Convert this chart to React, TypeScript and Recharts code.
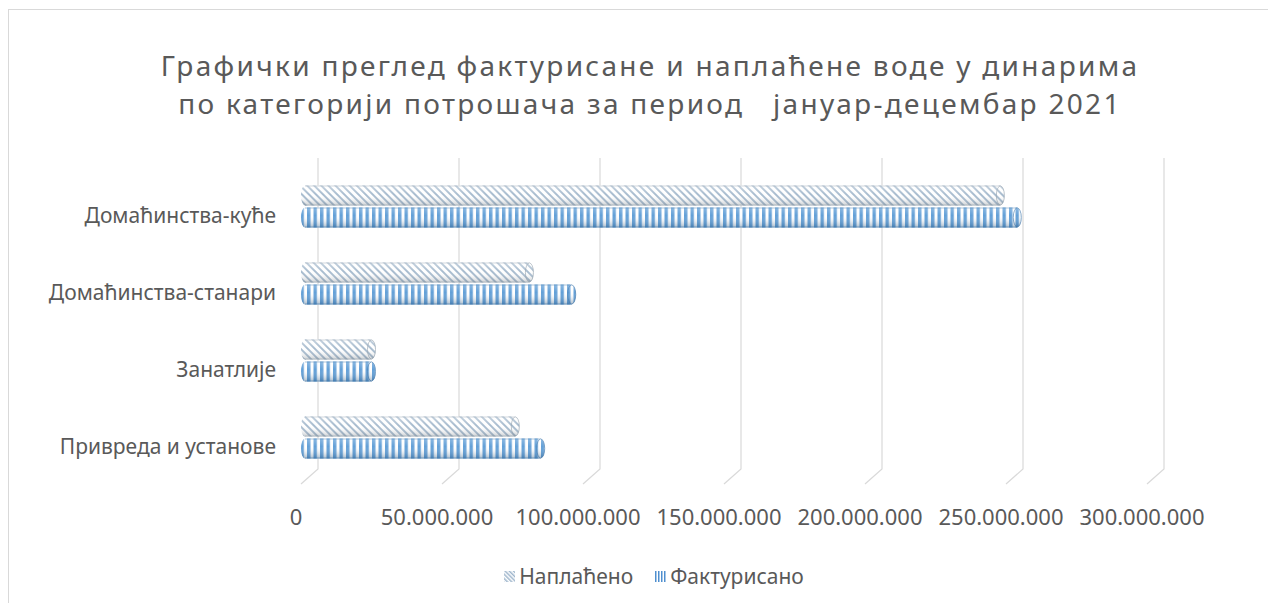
import React from "react";
import { BarChart, Bar, XAxis, YAxis, CartesianGrid } from "recharts";

const categories = ["Домаћинства-куће", "Домаћинства-станари", "Занатлије", "Привреда и установе"];
const naplaceno = [248000000, 81000000, 25000000, 76000000];
const fakturisano = [254000000, 96000000, 25000000, 85000000];
const xTicks = [0, 50000000, 100000000, 150000000, 200000000, 250000000, 300000000];
const titleLines = [
  "Графички преглед фактурисане и наплаћене воде у динарима",
  "по категорији потрошача за период   јануар-децембар 2021",
];
const seriesNames = ["Наплаћено", "Фактурисано"];

const data = categories.map((c, i) => ({ name: c, n: naplaceno[i], f: fakturisano[i] }));

const FONT = "'Noto Sans', 'Open Sans', sans-serif";
const TXT = "#595959";

const fmt = (v: number) => {
  if (v === 0) return "0";
  return String(v).replace(/\B(?=(\d{3})+(?!\d))/g, ".");
};

const Cyl = (props: any) => {
  const { x, y, width, height, kind } = props;
  if (!width || width <= 0) return null;
  const pat = kind === "n" ? "url(#patN)" : "url(#patF)";
  const shade = kind === "n" ? "url(#shadeN)" : "url(#shadeF)";
  const edge = kind === "n" ? "#9aa6b2" : "#4a7fb0";
  const rx = 4;
  const cy = y + height / 2;
  return (
    <g>
      <ellipse cx={x + 4} cy={cy} rx={rx} ry={height / 2} fill={pat} />
      <ellipse cx={x + 4} cy={cy} rx={rx} ry={height / 2} fill={shade} />
      <rect x={x + 4} y={y} width={width - 4} height={height} fill={pat} />
      <rect x={x + 4} y={y} width={width - 4} height={height} fill={shade} />
      <line x1={x + 4} y1={y + 0.5} x2={x + width} y2={y + 0.5} stroke={edge} strokeOpacity={0.45} />
      <line x1={x + 4} y1={y + height - 0.5} x2={x + width} y2={y + height - 0.5} stroke={edge} strokeOpacity={0.6} />
      <ellipse cx={x + width} cy={cy} rx={rx} ry={height / 2 - 0.5} fill={pat} stroke={edge} strokeOpacity={0.7} />
      <ellipse cx={x + width} cy={cy} rx={rx} ry={height / 2 - 0.5} fill={shade} />
    </g>
  );
};

const GridLine = (p: any) => {
  const { x1, y1, y2 } = p;
  const d = `M${x1 + 17},${y1 - 9.5} L${x1 + 17},${y2 - 6.5} L${x1},${y2 + 8.5}`;
  return <path key={p.key} d={d} stroke="#d9d9d9" strokeWidth={1.2} fill="none" />;
};

const XTick = (p: any) => {
  const { x, y, payload } = p;
  return (
    <text x={x - 5} y={y + 41} textAnchor="middle" fill={TXT} fontSize={22} fontFamily={FONT}>
      {fmt(payload.value)}
    </text>
  );
};

const YTick = (p: any) => {
  const { x, y, payload } = p;
  return (
    <text x={x} y={y + 17} textAnchor="end" fill={TXT} fontSize={21} fontFamily={FONT}>
      {payload.value}
    </text>
  );
};

const Swatch = ({ kind }: { kind: string }) => (
  <svg width={11} height={11} style={{ marginRight: 4 }}>
    <defs>
      <pattern id={"sw" + kind} patternUnits="userSpaceOnUse" width={3} height={3} patternTransform={kind === "n" ? "rotate(-45)" : undefined}>
        <rect width={3} height={3} fill="#fff" />
        <rect width={1.5} height={3} fill={kind === "n" ? "#9fb6cc" : "#4f8fcf"} />
      </pattern>
    </defs>
    <rect width={11} height={11} fill={`url(#sw${kind})`} />
  </svg>
);

export default function App() {
  return (
    <div style={{ position: "relative", width: 1260, height: 595, overflow: "hidden", background: "#fff" }}>
      <div style={{ position: "absolute", left: 0, top: 1, width: 1400, height: 800, border: "1px solid #d9d9d9" }} />
      <div
        style={{
          position: "absolute",
          left: 0,
          top: 38,
          width: 1284,
          textAlign: "center",
          fontFamily: FONT,
          fontSize: 28,
          lineHeight: "38px",
          letterSpacing: 2.3,
          color: TXT,
          whiteSpace: "pre",
        }}
      >
        {titleLines.map((l, i) => (
          <div key={i}>{l}</div>
        ))}
      </div>
      <div style={{ position: "absolute", left: 0, top: 0 }}>
        <BarChart
          width={1260}
          height={595}
          data={data}
          layout="vertical"
          margin={{ top: 159.5, right: 121, bottom: 87.5, left: 0 }}
          barSize={20}
          barGap={2}
        >
          <defs>
            <pattern id="patN" patternUnits="userSpaceOnUse" width={5} height={5} patternTransform="rotate(-45)">
              <rect width={5} height={5} fill="#ffffff" />
              <rect width={2} height={5} fill="#a8bccf" />
            </pattern>
            <pattern id="patF" patternUnits="userSpaceOnUse" width={6.5} height={6}>
              <rect width={6.5} height={6} fill="#ffffff" />
              <rect width={3.4} height={6} fill="#5b9bd5" />
            </pattern>
            <linearGradient id="shadeN" x1="0" y1="0" x2="0" y2="1">
              <stop offset="0" stopColor="#ffffff" stopOpacity={0.35} />
              <stop offset="0.45" stopColor="#ffffff" stopOpacity={0} />
              <stop offset="1" stopColor="#4d5a66" stopOpacity={0.3} />
            </linearGradient>
            <linearGradient id="shadeF" x1="0" y1="0" x2="0" y2="1">
              <stop offset="0" stopColor="#ffffff" stopOpacity={0.3} />
              <stop offset="0.4" stopColor="#ffffff" stopOpacity={0.05} />
              <stop offset="1" stopColor="#1f4e79" stopOpacity={0.4} />
            </linearGradient>
          </defs>
          <CartesianGrid horizontal={false} vertical={GridLine} />
          <XAxis
            type="number"
            domain={[0, 300000000]}
            ticks={xTicks}
            interval={0}
            axisLine={false}
            tickLine={false}
            height={40}
            tick={XTick}
          />
          <YAxis
            type="category"
            dataKey="name"
            width={293}
            axisLine={false}
            tickLine={false}
            tickSize={0}
            tickMargin={25}
            tick={YTick}
          />
          <Bar dataKey="n" name={seriesNames[0]} isAnimationActive={false} shape={(p: any) => <Cyl {...p} kind="n" />} />
          <Bar dataKey="f" name={seriesNames[1]} isAnimationActive={false} shape={(p: any) => <Cyl {...p} kind="f" />} />
        </BarChart>
      </div>
      <div
        style={{
          position: "absolute",
          left: 0,
          top: 554,
          width: 1292,
          display: "flex",
          justifyContent: "center",
          alignItems: "center",
          fontFamily: FONT,
          fontSize: 21,
          color: TXT,
        }}
      >
        <div style={{ display: "flex", alignItems: "center", marginRight: 22 }}>
          <Swatch kind="n" />
          {seriesNames[0]}
        </div>
        <div style={{ display: "flex", alignItems: "center" }}>
          <Swatch kind="f" />
          {seriesNames[1]}
        </div>
      </div>
    </div>
  );
}
